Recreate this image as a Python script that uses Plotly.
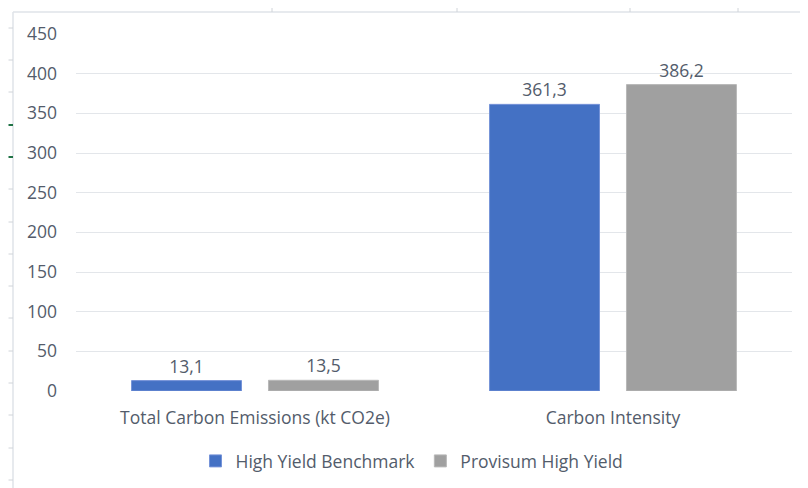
import plotly.graph_objects as go

categories = ["Total Carbon Emissions (kt CO2e)", "Carbon Intensity"]
series_names = ["High Yield Benchmark", "Provisum High Yield"]
benchmark = [13.1, 361.3]
provisum = [13.5, 386.2]
y_ticks = [0, 50, 100, 150, 200, 250, 300, 350, 400, 450]

colors = ["#4471c4", "#a0a0a0"]
line_colors = ["#7593d8", "#b8b8b8"]
text_color = "#535c6b"
font_family = "Open Sans, Noto Sans, sans-serif"
FS = 17.5

# the page body adds an 8px offset, so the figure is drawn 8px smaller
OFF = 8
W, H = 808 - OFF, 488 - OFF
L, R, T, B = 76 - OFF, 16, 34 - OFF, 97
pw, ph = W - L - R, H - T - B


def px(x):
    return (x - OFF - L) / pw


def py(y):
    return (H - B - (y - OFF)) / ph


fig = go.Figure()
for name, vals, c, lc in zip(series_names, [benchmark, provisum], colors, line_colors):
    fig.add_trace(go.Bar(
        x=categories, y=vals, name=name,
        marker=dict(color=c, line=dict(color=lc, width=1)),
        text=[f"{v:.1f}".replace(".", ",") for v in vals],
        textposition="outside", cliponaxis=False,
        textfont=dict(size=FS, color=text_color, family=font_family),
    ))

fig.update_layout(
    width=W, height=H,
    margin=dict(l=L, r=R, t=T, b=B, autoexpand=False),
    paper_bgcolor="white", plot_bgcolor="white",
    barmode="group", bargap=0.235, bargroupgap=0.197,
    font=dict(family=font_family, size=FS, color=text_color),
    showlegend=True,
    legend=dict(orientation="h", x=px(412), xanchor="center", y=py(461), yanchor="middle",
                font=dict(size=FS, color=text_color), itemwidth=30,
                traceorder="normal"),
    yaxis=dict(range=[0, 450], tickvals=y_ticks, showgrid=True, gridcolor="#e3e6ea",
               gridwidth=1, zeroline=False, showline=False, ticks="", automargin=False,
               ticklabelstandoff=18, tickfont=dict(size=FS, color=text_color)),
    xaxis=dict(showline=False, ticks="", automargin=False, ticklabelstandoff=14,
               tickfont=dict(size=FS, color=text_color)),
)

# spreadsheet frame artifacts around the chart
frame = [
    dict(type="line", xref="paper", yref="paper", x0=px(13), x1=px(808), y0=py(12), y1=py(12),
         line=dict(color="#dfe3e8", width=1.5)),
    dict(type="line", xref="paper", yref="paper", x0=px(13), x1=px(13), y0=py(12), y1=py(488),
         line=dict(color="#dfe3e8", width=1.5)),
]
for xt in [272, 457, 630, 738]:
    frame.append(dict(type="line", xref="paper", yref="paper", x0=px(xt), x1=px(xt),
                      y0=py(5), y1=py(12), line=dict(color="#d0d4d9", width=1)))
row_marks = [28, 60, 92, 125, 157, 189, 222, 254, 286, 318, 351, 383, 415, 448, 480]
for yt in row_marks:
    green = yt in (125, 157)
    frame.append(dict(type="line", xref="paper", yref="paper", x0=px(8.5), x1=px(13),
                      y0=py(yt), y1=py(yt),
                      line=dict(color="#217346" if green else "#d0d4d9", width=2 if green else 1)))
fig.update_layout(shapes=frame)

fig.write_html("out.html")
